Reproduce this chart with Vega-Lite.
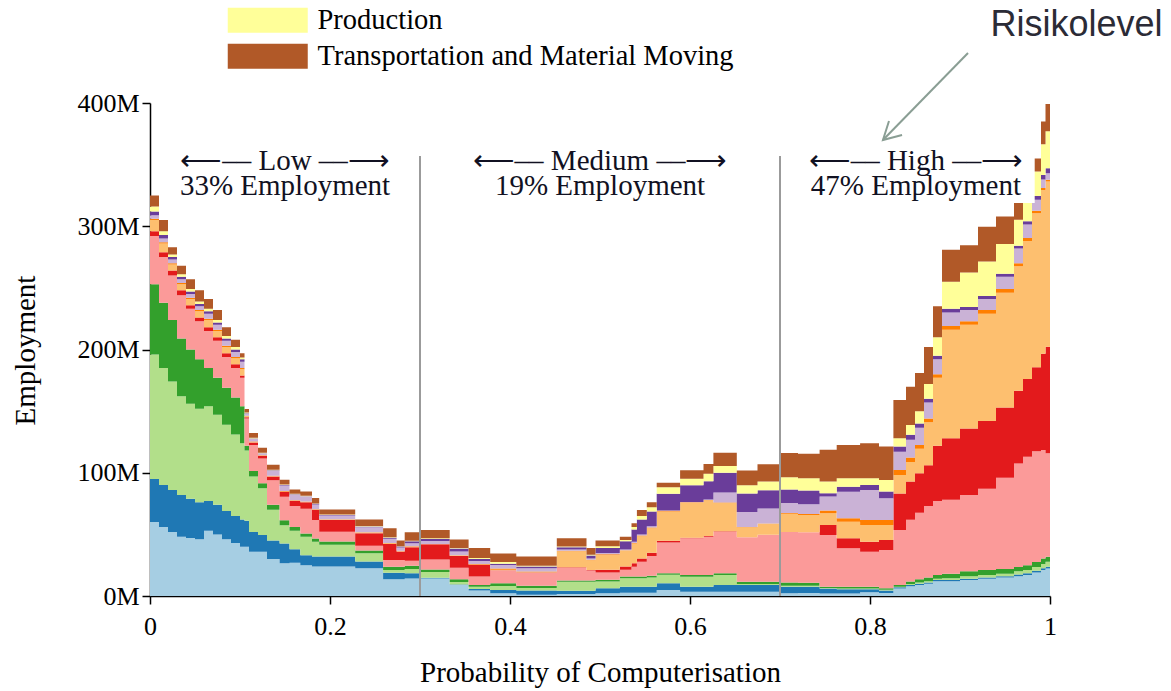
{
  "$schema": "https://vega.github.io/schema/vega-lite/v6.json",
  "width": 900,
  "height": 493,
  "autosize": {"type": "none"},
  "padding": {"left": 150, "top": 103, "right": 121, "bottom": 95},
  "background": "white",
  "datasets": {
    "cats": [
      {"k": "a01", "n": 1, "name": "Management, Business, and Financial"},
      {"k": "a02", "n": 2, "name": "Computer, Engineering, and Science"},
      {"k": "a03", "n": 3, "name": "Education, Legal, Community Service, Arts, and Media"},
      {"k": "a04", "n": 4, "name": "Healthcare Practitioners and Technical"},
      {"k": "a05", "n": 5, "name": "Service"},
      {"k": "a06", "n": 6, "name": "Sales and Related"},
      {"k": "a07", "n": 7, "name": "Office and Administrative Support"},
      {"k": "a08", "n": 8, "name": "Farming, Fishing, and Forestry"},
      {"k": "a09", "n": 9, "name": "Construction and Extraction"},
      {"k": "a10", "n": 10, "name": "Installation, Maintenance, and Repair"},
      {"k": "a11", "n": 11, "name": "Production"},
      {"k": "a12", "n": 12, "name": "Transportation and Material Moving"}
    ],
    "emp": [
      {"p":0,"a01":60,"a02":35,"a03":101,"a04":57,"a05":39,"a06":4,"a07":9,"a08":1,"a09":3,"a10":3,"a11":4,"a12":9},
      {"p":0.01,"a01":56,"a02":34,"a03":95,"a04":53,"a05":37,"a06":4,"a07":7,"a08":1,"a09":3,"a10":3,"a11":3,"a12":9},
      {"p":0.02,"a01":52,"a02":34,"a03":88,"a04":50,"a05":36,"a06":4,"a07":5,"a08":1,"a09":3,"a10":2,"a11":2,"a12":6},
      {"p":0.03,"a01":48,"a02":34,"a03":80,"a04":47,"a05":35,"a06":4,"a07":5,"a08":1,"a09":3,"a10":2,"a11":2,"a12":7},
      {"p":0.04,"a01":47,"a02":32,"a03":77,"a04":44,"a05":33,"a06":3,"a07":5,"a08":1,"a09":3,"a10":2,"a11":2,"a12":8},
      {"p":0.05,"a01":46,"a02":30,"a03":76,"a04":40,"a05":31,"a06":3,"a07":5,"a08":1,"a09":3,"a10":2,"a11":2,"a12":9},
      {"p":0.06,"a01":53,"a02":24,"a03":77,"a04":31,"a05":30,"a06":3,"a07":6,"a08":1,"a09":4,"a10":2,"a11":2,"a12":8},
      {"p":0.07,"a01":50,"a02":24,"a03":73,"a04":30,"a05":30,"a06":3,"a07":5,"a08":1,"a09":4,"a10":2,"a11":2,"a12":8},
      {"p":0.08,"a01":46,"a02":23,"a03":70,"a04":30,"a05":25,"a06":3,"a07":5,"a08":1,"a09":4,"a10":2,"a11":2,"a12":7},
      {"p":0.09,"a01":43,"a02":22,"a03":66,"a04":30,"a05":24,"a06":3,"a07":5,"a08":1,"a09":4,"a10":2,"a11":2,"a12":6},
      {"p":0.1,"a01":40,"a02":22,"a03":62,"a04":30,"a05":23,"a06":2,"a07":5,"a08":1,"a09":5,"a10":2,"a11":1.5,"a12":3.5},
      {"p":0.105,"a01":40,"a02":21,"a03":57,"a04":4,"a05":22,"a06":1,"a07":1,"a08":0.3,"a09":1.5,"a10":0.5,"a11":0.5,"a12":3},
      {"p":0.11,"a01":36,"a02":16,"a03":45,"a04":4.5,"a05":21,"a06":2,"a07":0.5,"a08":0.3,"a09":2,"a10":0.5,"a11":0.5,"a12":4},
      {"p":0.12,"a01":36,"a02":13.5,"a03":38,"a04":4,"a05":20,"a06":2,"a07":0.3,"a08":0.3,"a09":1.5,"a10":0.3,"a11":0.3,"a12":4},
      {"p":0.13,"a01":30,"a02":15,"a03":25,"a04":4,"a05":20,"a06":3,"a07":0.3,"a08":0.3,"a09":4,"a10":0.5,"a11":0.3,"a12":4},
      {"p":0.144,"a01":26.5,"a02":16,"a03":15,"a04":4,"a05":19,"a06":4,"a07":0.3,"a08":0.3,"a09":4.5,"a10":0.5,"a11":0.3,"a12":4},
      {"p":0.155,"a01":27,"a02":11,"a03":15,"a04":3,"a05":17,"a06":4,"a07":0.3,"a08":0.3,"a09":4.5,"a10":0.5,"a11":0.3,"a12":3.5},
      {"p":0.167,"a01":25,"a02":8,"a03":15,"a04":2.7,"a05":20,"a06":5.4,"a07":0.3,"a08":0.3,"a09":4,"a10":0.3,"a11":0.3,"a12":3.5},
      {"p":0.18,"a01":24,"a02":8,"a03":12,"a04":2.7,"a05":15,"a06":8,"a07":0.3,"a08":0.3,"a09":4,"a10":0.5,"a11":0.3,"a12":4.5},
      {"p":0.188,"a01":24,"a02":8,"a03":9.5,"a04":2.7,"a05":8,"a06":9.5,"a07":0.3,"a08":0.3,"a09":3,"a10":0.5,"a11":0.3,"a12":4},
      {"p":0.228,"a01":22.5,"a02":5.4,"a03":6.8,"a04":2.2,"a05":3.8,"a06":10.3,"a07":0.5,"a08":0.3,"a09":4,"a10":0.6,"a11":0.3,"a12":5.4},
      {"p":0.259,"a01":13.5,"a02":5.4,"a03":2.2,"a04":2.7,"a05":5.4,"a06":13,"a07":0.5,"a08":0.3,"a09":3.5,"a10":0.8,"a11":0.3,"a12":7.4},
      {"p":0.274,"a01":13.5,"a02":5.4,"a03":2.2,"a04":2.7,"a05":5.4,"a06":7,"a07":0.3,"a08":0.3,"a09":2.5,"a10":0.8,"a11":0.3,"a12":4.6},
      {"p":0.283,"a01":14.3,"a02":4.1,"a03":3.5,"a04":2.7,"a05":4.1,"a06":10.8,"a07":0.5,"a08":0.3,"a09":2.5,"a10":1.6,"a11":0.5,"a12":6.8},
      {"p":0.3,"a01":14.3,"a02":0.5,"a03":4.6,"a04":2.2,"a05":8.1,"a06":12.2,"a07":0.3,"a08":0,"a09":2.5,"a10":1.6,"a11":0.5,"a12":6.8},
      {"p":0.333,"a01":8.9,"a02":0.5,"a03":1.9,"a04":2.2,"a05":9.5,"a06":9.5,"a07":0.3,"a08":0.3,"a09":3,"a10":2.4,"a11":0.5,"a12":6.8},
      {"p":0.354,"a01":4.5,"a02":1.2,"a03":1.9,"a04":1.4,"a05":6.8,"a06":9.5,"a07":0.3,"a08":0.3,"a09":2.5,"a10":1.6,"a11":0.8,"a12":8.1},
      {"p":0.378,"a01":2.2,"a02":2.7,"a03":3.2,"a04":2.2,"a05":10.3,"a06":0.3,"a07":0.5,"a08":1,"a09":2.7,"a10":1,"a11":1.4,"a12":7},
      {"p":0.407,"a01":1,"a02":3.5,"a03":1.9,"a04":1.9,"a05":10.3,"a06":0.5,"a07":0.3,"a08":0.5,"a09":2.7,"a10":1.4,"a11":0.5,"a12":7.6},
      {"p":0.452,"a01":1.6,"a02":2.7,"a03":7.3,"a04":1,"a05":10.3,"a06":0.5,"a07":13,"a08":0.3,"a09":1,"a10":1.9,"a11":0.5,"a12":6.8},
      {"p":0.485,"a01":1.6,"a02":2.7,"a03":7.3,"a04":1,"a05":8,"a06":0.5,"a07":8,"a08":0.3,"a09":1,"a10":2.5,"a11":0.5,"a12":5.5},
      {"p":0.495,"a01":2.2,"a02":4.1,"a03":5.4,"a04":1.4,"a05":6,"a06":2.2,"a07":12,"a08":0.5,"a09":1,"a10":4.1,"a11":1.4,"a12":4.7},
      {"p":0.522,"a01":2.7,"a02":4.9,"a03":6.8,"a04":1.4,"a05":5.4,"a06":2.7,"a07":13,"a08":0.3,"a09":0.5,"a10":6.8,"a11":1,"a12":2.5},
      {"p":0.535,"a01":2.7,"a02":4.9,"a03":6.8,"a04":1.4,"a05":8,"a06":2.7,"a07":16,"a08":0.5,"a09":1,"a10":10,"a11":2,"a12":3},
      {"p":0.541,"a01":2.7,"a02":4.9,"a03":6.8,"a04":1.4,"a05":12,"a06":2.7,"a07":18,"a08":0.5,"a09":1,"a10":12,"a11":3,"a12":4.8},
      {"p":0.552,"a01":2.7,"a02":4.9,"a03":7.5,"a04":1.4,"a05":16,"a06":2.5,"a07":20,"a08":0.5,"a09":1,"a10":12,"a11":3.5,"a12":4},
      {"p":0.563,"a01":4.9,"a02":5.4,"a03":7,"a04":1.1,"a05":25,"a06":1.4,"a07":23.8,"a08":0.5,"a09":0.3,"a10":13.5,"a11":5.4,"a12":3.5},
      {"p":0.589,"a01":3.5,"a02":4.1,"a03":8.1,"a04":1.4,"a05":29.7,"a06":0.5,"a07":28.4,"a08":0.3,"a09":0.3,"a10":13.5,"a11":5.4,"a12":6.8},
      {"p":0.615,"a01":3.5,"a02":4.1,"a03":8.1,"a04":1.4,"a05":31,"a06":0.5,"a07":29,"a08":0.3,"a09":0.3,"a10":15,"a11":6,"a12":8},
      {"p":0.626,"a01":3.5,"a02":5.4,"a03":8.1,"a04":1.4,"a05":33.8,"a06":0.3,"a07":23,"a08":0.3,"a09":8.1,"a10":16.2,"a11":5.4,"a12":10.8},
      {"p":0.652,"a01":3.5,"a02":5.4,"a03":0.8,"a04":1.9,"a05":36,"a06":0,"a07":8.1,"a08":0.3,"a09":12.2,"a10":14.9,"a11":6.8,"a12":12},
      {"p":0.675,"a01":3.5,"a02":5.4,"a03":0.8,"a04":1.9,"a05":38,"a06":0,"a07":9,"a08":0.3,"a09":12,"a10":14.9,"a11":7,"a12":14},
      {"p":0.7,"a01":2.2,"a02":5.4,"a03":0.8,"a04":2.5,"a05":41,"a06":0,"a07":14.9,"a08":0.5,"a09":8.1,"a10":11,"a11":10,"a12":19.6},
      {"p":0.72,"a01":2.5,"a02":5,"a03":0.8,"a04":2.5,"a05":41,"a06":0,"a07":14,"a08":0.7,"a09":8,"a10":11,"a11":10,"a12":20},
      {"p":0.744,"a01":2,"a02":4,"a03":0.5,"a04":1.1,"a05":41.9,"a06":8.1,"a07":9.5,"a08":2.2,"a09":11.4,"a10":2.7,"a11":9.5,"a12":25.7},
      {"p":0.763,"a01":2,"a02":3.5,"a03":0.5,"a04":1.6,"a05":31.1,"a06":8.1,"a07":13.5,"a08":2.7,"a09":21.6,"a10":4.1,"a11":6.8,"a12":27},
      {"p":0.789,"a01":3,"a02":2.5,"a03":0.6,"a04":1.5,"a05":28.4,"a06":8.1,"a07":13.5,"a08":4.1,"a09":24.3,"a10":4.1,"a11":5.4,"a12":28.4},
      {"p":0.81,"a01":2.5,"a02":2,"a03":0.5,"a04":1.2,"a05":31.1,"a06":8.1,"a07":12.2,"a08":4.1,"a09":17.6,"a10":5.4,"a11":9.5,"a12":27},
      {"p":0.826,"a01":6,"a02":1,"a03":0.5,"a04":1.4,"a05":44.6,"a06":29.7,"a07":14.9,"a08":4.1,"a09":14.9,"a10":4.1,"a11":6.8,"a12":31.1},
      {"p":0.84,"a01":8,"a02":1,"a03":0.8,"a04":2,"a05":50,"a06":31,"a07":16,"a08":3.5,"a09":14.5,"a10":4,"a11":8,"a12":31},
      {"p":0.85,"a01":9,"a02":1,"a03":1,"a04":2.5,"a05":54,"a06":32,"a07":20,"a08":3,"a09":14,"a10":3.5,"a11":10,"a12":31},
      {"p":0.86,"a01":10,"a02":1,"a03":1,"a04":3,"a05":58,"a06":33,"a07":35,"a08":3,"a09":13,"a10":3,"a11":12,"a12":30},
      {"p":0.87,"a01":12,"a02":1,"a03":1,"a04":3,"a05":60,"a06":45,"a07":55,"a08":3,"a09":12,"a10":3,"a11":15,"a12":25},
      {"p":0.88,"a01":12,"a02":1,"a03":1.5,"a04":3.5,"a05":60,"a06":50,"a07":88,"a08":3,"a09":11,"a10":3,"a11":22,"a12":26},
      {"p":0.9,"a01":13,"a02":1,"a03":2,"a04":4,"a05":62,"a06":54,"a07":84,"a08":3,"a09":9,"a10":2.5,"a11":28,"a12":22},
      {"p":0.92,"a01":14,"a02":1,"a03":2,"a04":4,"a05":66,"a06":55,"a07":87,"a08":3,"a09":9,"a10":2.5,"a11":28,"a12":28},
      {"p":0.94,"a01":15,"a02":1,"a03":2,"a04":4,"a05":74,"a06":57,"a07":93,"a08":3,"a09":10,"a10":2.5,"a11":24,"a12":22.5},
      {"p":0.96,"a01":16,"a02":1.5,"a03":2.5,"a04":3.5,"a05":84,"a06":59,"a07":101,"a08":2.5,"a09":12,"a10":2.2,"a11":21,"a12":15},
      {"p":0.97,"a01":17,"a02":1.5,"a03":2.5,"a04":4,"a05":88,"a06":63,"a07":112,"a08":2.5,"a09":11,"a10":2.5,"a11":22,"a12":9},
      {"p":0.98,"a01":19,"a02":1.5,"a03":3,"a04":4,"a05":90,"a06":68,"a07":125,"a08":2,"a09":9,"a10":3,"a11":20,"a12":10.5},
      {"p":0.99,"a01":21,"a02":1.5,"a03":3.5,"a04":4.5,"a05":88,"a06":78,"a07":133,"a08":1.5,"a09":7,"a10":3.5,"a11":25,"a12":18.5},
      {"p":0.995,"a01":22.4,"a02":1.4,"a03":4,"a04":4,"a05":84,"a06":86.5,"a07":134,"a08":1.5,"a09":5.3,"a10":4,"a11":30,"a12":22},
      {"p":1,"a01":22.4,"a02":1.4,"a03":4,"a04":4,"a05":84,"a06":86.5,"a07":134,"a08":1.5,"a09":5.3,"a10":4,"a11":30,"a12":22}
    ]
  },
  "layer": [
    {
      "data": {"name": "emp"},
      "transform": [
        {"fold": ["a01","a02","a03","a04","a05","a06","a07","a08","a09","a10","a11","a12"], "as": ["k", "v"]},
        {"lookup": "k", "from": {"data": {"name": "cats"}, "key": "k", "fields": ["name", "n"]}}
      ],
      "mark": {"type": "area", "interpolate": "step-after", "opacity": 1},
      "encoding": {
        "x": {"field": "p", "type": "quantitative", "scale": {"domain": [0, 1], "nice": false}, "title": "Probability of Computerisation",
              "axis": {"values": [0, 0.2, 0.4, 0.6, 0.8, 1], "format": "~g", "labelPadding": 9, "titleY": 76, "titleBaseline": "middle"}},
        "y": {"field": "v", "type": "quantitative", "stack": "zero", "scale": {"domain": [0, 400], "nice": false}, "title": "Employment",
              "axis": {"values": [0, 100, 200, 300, 400], "labelExpr": "datum.value + 'M'", "labelPadding": 3, "titleX": -125, "titleY": 247, "titleBaseline": "middle"}},
        "order": {"field": "n", "type": "quantitative", "sort": "ascending"},
        "color": {
          "field": "name", "type": "nominal",
          "scale": {
            "domain": ["Management, Business, and Financial","Computer, Engineering, and Science","Education, Legal, Community Service, Arts, and Media","Healthcare Practitioners and Technical","Service","Sales and Related","Office and Administrative Support","Farming, Fishing, and Forestry","Construction and Extraction","Installation, Maintenance, and Repair","Production","Transportation and Material Moving"],
            "range": ["#a6cee3","#1f78b4","#b2df8a","#33a02c","#fb9a99","#e31a1c","#fdbf6f","#ff7f00","#cab2d6","#6a3d9a","#ffff99","#b15928"]
          },
          "legend": {
            "orient": "none", "legendX": 103.5, "legendY": -133, "title": null,
            "values": ["Installation, Maintenance, and Repair", "Production", "Transportation and Material Moving"],
            "symbolType": "M-3.2,-1H3.2V1H-3.2Z", "symbolSize": 625, "symbolStrokeWidth": 0, "symbolOpacity": 1,
            "labelFont": "Liberation Serif", "labelFontSize": 28.5, "labelColor": "#000000", "labelOffset": 35.5, "labelLimit": 0, "rowPadding": 7
          }
        }
      }
    },
    {
      "data": {"values": [{"p": 0.3, "y0": 0, "y1": 357}, {"p": 0.7, "y0": 0, "y1": 357}]},
      "mark": {"type": "rule", "color": "#9b9b9b", "strokeWidth": 2},
      "encoding": {
        "x": {"field": "p", "type": "quantitative", "title": "Probability of Computerisation"},
        "y": {"field": "y0", "type": "quantitative", "title": "Employment"},
        "y2": {"field": "y1"}
      }
    },
    {
      "data": {"values": [{"p0": 0.728, "p1": 0.983, "y0": 318.8, "y1": 372}]},
      "mark": {"type": "rect", "color": "white", "opacity": 1},
      "encoding": {
        "x": {"field": "p0", "type": "quantitative", "title": "Probability of Computerisation"},
        "x2": {"field": "p1"},
        "y": {"field": "y0", "type": "quantitative", "title": "Employment"},
        "y2": {"field": "y1"}
      }
    },
    {
      "data": {"values": [
        {"p": 0.15, "y": 345.6, "t": "⟵–– Low ––⟶"},
        {"p": 0.15, "y": 325.4, "t": "33% Employment"},
        {"p": 0.5, "y": 345.6, "t": "⟵–– Medium ––⟶"},
        {"p": 0.5, "y": 325.4, "t": "19% Employment"},
        {"p": 0.851, "y": 345.6, "t": "⟵–– High ––⟶"},
        {"p": 0.851, "y": 325.4, "t": "47% Employment"}
      ]},
      "mark": {"type": "text", "font": "Liberation Serif", "fontSize": 29, "color": "#111122", "align": "center", "baseline": "alphabetic"},
      "encoding": {
        "x": {"field": "p", "type": "quantitative", "title": "Probability of Computerisation"},
        "y": {"field": "y", "type": "quantitative", "title": "Employment"},
        "text": {"field": "t"}
      }
    },
    {
      "data": {"values": [{"p": 1.0294, "y": 454.6, "t": "Risikolevel"}]},
      "mark": {"type": "text", "font": "Liberation Sans", "fontSize": 36, "color": "#2b2b36", "align": "center", "baseline": "alphabetic"},
      "encoding": {
        "x": {"field": "p", "type": "quantitative", "title": "Probability of Computerisation"},
        "y": {"field": "y", "type": "quantitative", "title": "Employment"},
        "text": {"field": "t"}
      }
    },
    {
      "data": {"values": [
        {"p": 0.9089, "y": 440.6, "s": "a", "i": 0},
        {"p": 0.8144, "y": 370.0, "s": "a", "i": 1},
        {"p": 0.8211, "y": 385.4, "s": "b", "i": 0},
        {"p": 0.8144, "y": 370.0, "s": "b", "i": 1},
        {"p": 0.8356, "y": 374.0, "s": "b", "i": 2}
      ]},
      "mark": {"type": "line", "color": "#8a9e94", "strokeWidth": 2},
      "encoding": {
        "x": {"field": "p", "type": "quantitative", "title": "Probability of Computerisation"},
        "y": {"field": "y", "type": "quantitative", "title": "Employment"},
        "detail": {"field": "s"},
        "order": {"field": "i", "type": "quantitative"}
      }
    }
  ],
  "config": {
    "view": {"stroke": null},
    "axis": {
      "grid": false,
      "domainColor": "#000000", "domainWidth": 1.5,
      "tickColor": "#000000", "tickWidth": 1.5, "tickSize": 8,
      "labelFont": "Liberation Serif", "labelFontSize": 26, "labelColor": "#000000", "labelFlush": false, "labelOverlap": false,
      "titleFont": "Liberation Serif", "titleFontSize": 29, "titleFontWeight": "normal", "titleColor": "#000000"
    }
  }
}
